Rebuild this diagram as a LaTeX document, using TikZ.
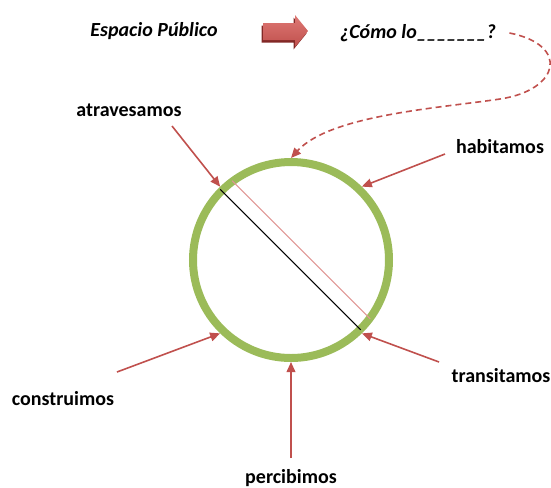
\documentclass[tikz,border=0pt]{standalone}
\usepackage{fontspec}
\setmainfont{Carlito}
\usetikzlibrary{positioning,arrows.meta,shapes}

\definecolor{rojo}{RGB}{192,80,77}
\definecolor{rojoclaro}{RGB}{222,120,116}
\definecolor{rojoosc}{RGB}{130,40,38}
\definecolor{verde}{RGB}{155,187,89}
\definecolor{rosa}{RGB}{224,150,148}

\tikzset{
  etiqueta/.style={font=\fontsize{15}{18}\selectfont\bfseries, inner sep=0pt},
  titulo/.style={font=\fontsize{15}{18}\selectfont\bfseries\itshape, inner sep=0pt},
  flecha/.style={rojo, line width=1.2pt, -{Triangle[length=7.5pt,width=6.5pt]}},
  discont/.style={flecha, dash pattern=on 4.5pt off 3pt},
}

\begin{document}
\begin{tikzpicture}[x=0.75pt, y=-0.75pt]
\useasboundingbox (0,0) rectangle (551,487);
%
    % titulo
    \node[titulo] (espacio) at (154,31) {Espacio Público};
    \node[titulo] (pregunta) at (418,33) {¿Cómo lo\_\_\_\_\_\_\_?};
    \fill[rojoosc] (261.5,25.5) -- (293.5,25.5) -- (293.5,17.5) -- (306.5,33.5) -- (293.5,49.5) -- (293.5,42.5) -- (261.5,42.5) -- cycle;
    \shade[top color=rojoclaro, bottom color=rojo] (263,23) -- (295,23) -- (295,15) -- (308,31) -- (295,47) -- (295,40) -- (263,40) -- cycle;
%
    % circulo
    \node[circle, draw=verde, line width=6pt, minimum size=147pt, outer sep=3pt] (circulo) at (291,260) {};
    \draw[rosa, line width=0.8pt] ([shift={(126.6:74pt)}]circulo.center) -- ([shift={(-36.6:74pt)}]circulo.center);
    \draw[black, line width=0.8pt] ([shift={(135:75pt)}]circulo.center) -- ([shift={(-45:74pt)}]circulo.center);
%
    % etiquetas
    \node[etiqueta] (atrav)  at (129,110) {atravesamos};
    \node[etiqueta] (habit)  at (500,147) {habitamos};
    \node[etiqueta] (trans)  at (501,376) {transitamos};
    \node[etiqueta] (constr) at (63,399)  {construimos};
    \node[etiqueta] (perc)   at (291,478) {percibimos};
%
    \coordinate (c-atrav)  at (172,126);
    \coordinate (c-habit)  at (445,154);
    \coordinate (c-trans)  at (439,362);
    \coordinate (c-constr) at (117,372);
    \coordinate (c-perc)   at (291,458);
%
    \draw[flecha] (c-atrav)  -- (circulo.134);
    \draw[flecha] (c-habit)  -- (circulo.46);
    \draw[flecha] (c-trans)  -- (circulo.-46);
    \draw[flecha] (c-constr) -- (circulo.226);
    \draw[flecha] (c-perc)   -- (circulo.south);
%
    \draw[discont] ([xshift=10pt]pregunta.east) .. controls (570,45) and (560,90) .. (500,99)
                   .. controls (440,108) and (330,115) .. (circulo.north);
  \end{tikzpicture}
\end{document}
